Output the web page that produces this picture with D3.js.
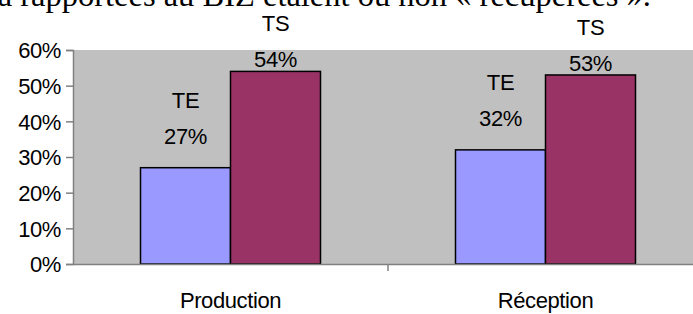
<!DOCTYPE html>
<html lang="fr">
<head>
<meta charset="utf-8">
<script src="https://cdn.jsdelivr.net/npm/d3@7"></script>
<style>
  body { margin: 0; background: #fff; }
  text { font-family: "Liberation Sans", Arial, sans-serif; fill: #000; }
  .lbl { font-size: 22px; letter-spacing: -0.4px; }
  .title { font-family: "Liberation Serif", "Times New Roman", serif; font-size: 32.5px; }
</style>
</head>
<body>
<script>
// data
var categories = ["Production", "Réception"];
var series = ["TE", "TS"];
var teValues = [27, 32];
var tsValues = [54, 53];
var yTicks = [0, 10, 20, 30, 40, 50, 60];
var colors = ["#9999ff", "#993366"];
// label offset above bar top, per series (as in the original layout)
var labelGap = [23.5, 4];

var w = 693, h = 314;
var margin = {top: 50, left: 73, bottom: 50};
var plotW = 630; // runs past the right edge, like the source
var plotH = h - margin.top - margin.bottom;

var svg = d3.select("body").append("svg")
    .attr("width", w)
    .attr("height", h);

// cut-off sentence from the surrounding document
svg.append("text")
    .attr("class", "title")
    .attr("text-anchor", "end")
    .attr("x", 651)
    .attr("y", 6)
    .text("ia rapportées au BIZ étaient ou non « récupérées ».");

var x0 = d3.scaleBand().domain(categories).range([margin.left, margin.left + plotW]);
var x1 = d3.scaleBand().domain(series).range([0, x0.bandwidth()]).paddingOuter(0.75).paddingInner(0);
var y = d3.scaleLinear().domain([0, 60]).range([margin.top + plotH, margin.top]);

svg.append("rect")
    .attr("x", margin.left)
    .attr("y", y(60))
    .attr("width", plotW)
    .attr("height", y(0) - y(60))
    .attr("fill", "#c0c0c0");

var rows = categories.map(function(c, i) {
    return {cat: c, vals: [teValues[i], tsValues[i]]};
});

var groups = svg.selectAll("g.grp")
    .data(rows)
    .enter().append("g")
    .attr("class", "grp")
    .attr("transform", function(d) { return "translate(" + x0(d.cat) + ",0)"; });

groups.selectAll("rect")
    .data(function(d) { return d.vals.map(function(v, j) { return {s: series[j], v: v, j: j}; }); })
    .enter().append("rect")
    .attr("x", function(d) { return x1(d.s); })
    .attr("y", function(d) { return y(d.v); })
    .attr("width", x1.bandwidth())
    .attr("height", function(d) { return y(0) - y(d.v); })
    .attr("fill", function(d) { return colors[d.j]; })
    .attr("stroke", "#000")
    .attr("stroke-width", 1.5);

// data labels: series name above value
var labels = groups.selectAll("g.dl")
    .data(function(d) { return d.vals.map(function(v, j) { return {s: series[j], v: v, j: j}; }); })
    .enter().append("g")
    .attr("class", "dl");

labels.append("text")
    .attr("class", "lbl")
    .attr("text-anchor", "middle")
    .attr("x", function(d) { return x1(d.s) + x1.bandwidth() / 2; })
    .attr("y", function(d) { return y(d.v) - labelGap[d.j]; })
    .text(function(d) { return d.v + "%"; });

labels.append("text")
    .attr("class", "lbl")
    .attr("text-anchor", "middle")
    .attr("x", function(d) { return x1(d.s) + x1.bandwidth() / 2; })
    .attr("y", function(d) { return y(d.v) - labelGap[d.j] - 36; })
    .text(function(d) { return d.s; });

// y axis
var yAxis = svg.append("g")
    .attr("transform", "translate(" + margin.left + ",0)")
    .call(d3.axisLeft(y).tickValues(yTicks).tickSize(7).tickPadding(5)
        .tickFormat(function(d) { return d + "%"; }));
yAxis.attr("font-size", null).attr("font-family", null);
yAxis.select(".domain").attr("stroke", "#808080").attr("stroke-width", 1.5);
yAxis.selectAll(".tick line").attr("stroke", "#808080").attr("stroke-width", 1.5);
yAxis.selectAll("text").attr("class", "lbl").attr("dy", "0.36em");

// x axis
var xAxis = svg.append("g")
    .attr("transform", "translate(0," + y(0) + ")")
    .call(d3.axisBottom(x0).tickSizeOuter(0).tickSize(0));
xAxis.attr("font-size", null).attr("font-family", null);
xAxis.select(".domain").attr("stroke", "#808080").attr("stroke-width", 1.5);
xAxis.selectAll(".tick line").remove();
xAxis.selectAll("text").attr("class", "lbl").attr("y", 44).attr("dy", 0);

// category divider ticks
svg.selectAll("line.ctick")
    .data(categories.slice(1))
    .enter().append("line")
    .attr("class", "ctick")
    .attr("x1", function(d) { return x0(d); })
    .attr("x2", function(d) { return x0(d); })
    .attr("y1", y(0))
    .attr("y2", y(0) + 7)
    .attr("stroke", "#808080")
    .attr("stroke-width", 1.5);
</script>
</body>
</html>
